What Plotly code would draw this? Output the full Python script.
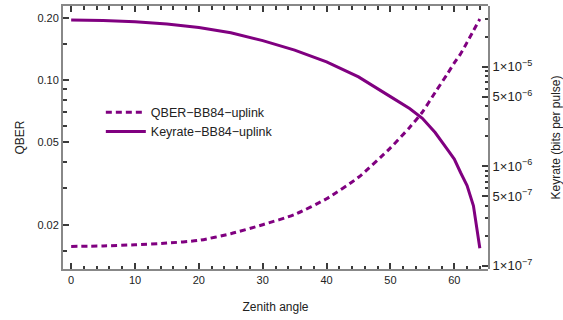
import plotly.graph_objects as go

# Zenith angle samples (degrees)
zenith = [0, 5, 10, 15, 20, 25, 30, 35, 40, 45, 50, 53, 55, 57, 59, 60, 61, 62, 63, 64]
# QBER (dashed, left axis)
qber = [0.0157, 0.0158, 0.0160, 0.0163, 0.0168, 0.0181, 0.0200, 0.0224, 0.0267, 0.0339,
        0.0470, 0.0590, 0.0700, 0.0870, 0.108, 0.121, 0.134, 0.152, 0.173, 0.197]
# Keyrate in bits per pulse (solid, right axis)
keyrate = [2.94e-5, 2.91e-5, 2.83e-5, 2.68e-5, 2.48e-5, 2.19e-5, 1.83e-5, 1.47e-5, 1.12e-5,
           7.9e-6, 5.0e-6, 3.8e-6, 3.03e-6, 2.18e-6, 1.45e-6, 1.18e-6, 8.6e-7, 6.4e-7,
           4.0e-7, 1.5e-7]

left_ticks = [0.02, 0.05, 0.10, 0.20]
left_labels = ["0.02", "0.05", "0.10", "0.20"]
left_minor = [0.015, 0.03, 0.04, 0.06, 0.07, 0.08, 0.09, 0.15]
right_ticks = [1e-7, 5e-7, 1e-6, 5e-6, 1e-5]
right_labels = ["1×10<sup>−7</sup>", "5×10<sup>−7</sup>", "1×10<sup>−6</sup>",
                "5×10<sup>−6</sup>", "1×10<sup>−5</sup>"]
right_minor = [m * 10.0 ** e for e in (-7, -6, -5) for m in (2, 3, 4, 6, 7, 8, 9)]

purple = "#800080"
frame = "#888888"
tickc = "#3a3a3a"
txt = "#222222"
font = "Liberation Sans, Arial, sans-serif"
xrange_ = [-1.28, 65.28]

fig = go.Figure()
fig.add_trace(go.Scatter(x=zenith, y=qber, mode="lines", name="QBER−BB84−uplink",
                         line=dict(color=purple, width=3, dash="6px,4px",
                                   shape="spline", smoothing=0.6),
                         xaxis="x", yaxis="y"))
fig.add_trace(go.Scatter(x=zenith, y=keyrate, mode="lines", name="Keyrate−BB84−uplink",
                         line=dict(color=purple, width=3), xaxis="x2", yaxis="y2"))

fig.update_layout(
    template="none",
    width=563, height=320,
    margin=dict(l=63, r=75, t=6, b=51, autoexpand=False),
    paper_bgcolor="white", plot_bgcolor="rgba(0,0,0,0)",
    font=dict(family=font, size=11, color=txt),
    showlegend=True,
    legend=dict(x=0.089, y=0.652, xanchor="left", yanchor="top",
                bgcolor="rgba(0,0,0,0)", font=dict(size=12.5, color=txt),
                itemwidth=40),
    xaxis=dict(range=xrange_, domain=[0, 1], anchor="y", showgrid=False, zeroline=False,
               showline=True, linecolor=frame, linewidth=2, mirror="ticks",
               ticks="inside", ticklen=6, tickwidth=1.5, tickcolor=tickc,
               dtick=10, tick0=0,
               minor=dict(ticks="inside", ticklen=3.5, tickwidth=1.5, tickcolor=tickc,
                          dtick=2, tick0=0, showgrid=False),
               title=dict(text="Zenith angle", standoff=17, font=dict(size=12))),
    xaxis2=dict(range=xrange_, domain=[0, 1], anchor="y2", visible=False,
                showgrid=False, zeroline=False),
    yaxis=dict(type="log", range=[-1.913, -0.6425], domain=[0, 1], anchor="x",
               showgrid=False, zeroline=False,
               showline=True, linecolor=frame, linewidth=2,
               ticks="inside", ticklen=6, tickwidth=1.5, tickcolor=tickc,
               tickvals=left_ticks, ticktext=left_labels,
               minor=dict(ticks="inside", ticklen=3.5, tickwidth=1.5, tickcolor=tickc,
                          tickvals=left_minor, showgrid=False),
               title=dict(text="QBER", standoff=10, font=dict(size=12))),
    yaxis2=dict(type="log", range=[-7.033, -4.39], domain=[0, 1], anchor="x2", side="right",
                showgrid=False, zeroline=False,
                showline=True, linecolor=frame, linewidth=2,
                ticks="inside", ticklen=6, tickwidth=1.5, tickcolor=tickc,
                tickvals=right_ticks, ticktext=right_labels,
                tickfont=dict(size=13),
                minor=dict(ticks="inside", ticklen=3.5, tickwidth=1.5, tickcolor=tickc,
                           tickvals=right_minor, showgrid=False),
                title=dict(text="Keyrate (bits per pulse)", standoff=22, font=dict(size=12))),
)

fig.write_html("out.html", config={"displayModeBar": False},
               post_script="document.body.style.margin='0';document.body.style.overflow='hidden';")
